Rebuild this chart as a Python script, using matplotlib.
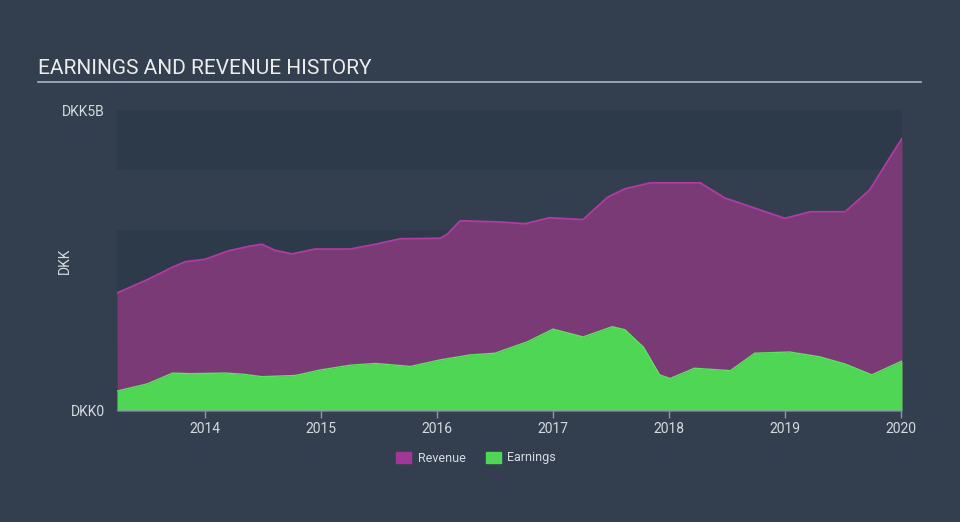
import matplotlib
matplotlib.use("Agg")
import matplotlib.pyplot as plt
from matplotlib.patches import Patch

plt.rcParams['font.family'] = ['Roboto', 'DejaVu Sans']

# values (decimal year, DKK billions)
rev_t = [2013.24, 2013.50, 2013.72, 2013.83, 2014.00, 2014.20, 2014.39, 2014.49,
         2014.60, 2014.75, 2014.95, 2015.25, 2015.47, 2015.68, 2016.03, 2016.09,
         2016.20, 2016.54, 2016.76, 2016.97, 2017.26, 2017.47, 2017.62, 2017.84,
         2018.27, 2018.48, 2018.74, 2019.00, 2019.22, 2019.52, 2019.73, 2020.01]
rev_v = [1.96, 2.18, 2.39, 2.48, 2.52, 2.66, 2.74, 2.77,
         2.67, 2.61, 2.69, 2.69, 2.77, 2.86, 2.87, 2.94,
         3.16, 3.14, 3.11, 3.21, 3.18, 3.55, 3.69, 3.79,
         3.79, 3.54, 3.37, 3.20, 3.31, 3.31, 3.67, 4.53]

earn_t = [2013.24, 2013.50, 2013.72, 2013.87, 2014.17, 2014.33, 2014.49, 2014.78,
          2014.99, 2015.25, 2015.47, 2015.77, 2016.03, 2016.28, 2016.50, 2016.78,
          2017.00, 2017.26, 2017.51, 2017.62, 2017.78, 2017.92, 2018.01, 2018.22,
          2018.53, 2018.74, 2019.04, 2019.30, 2019.52, 2019.75, 2020.01]
earn_v = [0.33, 0.45, 0.63, 0.62, 0.63, 0.61, 0.57, 0.59,
          0.68, 0.76, 0.79, 0.74, 0.85, 0.93, 0.96, 1.15,
          1.36, 1.23, 1.40, 1.35, 1.06, 0.60, 0.54, 0.71,
          0.67, 0.96, 0.98, 0.90, 0.78, 0.60, 0.83]

years = [2014, 2015, 2016, 2017, 2018, 2019, 2020]

bg = '#333f4f'
fig = plt.figure(figsize=(9.6, 5.22), dpi=100, facecolor=bg)
ax = fig.add_axes([117/960, 1 - 411/522, 785/960, 301/522])
ax.set_facecolor(bg)

# alternating horizontal bands
for lo in range(5):
    col = '#2d3a4a' if lo % 2 == 0 else bg
    ax.axhspan(lo, lo + 1, color=col, lw=0, zorder=0)

ax.fill_between(rev_t, rev_v, color='#7a3a76', lw=0, zorder=1)
ax.plot(rev_t, rev_v, color='#b03ba2', lw=1.3, zorder=2)
ax.fill_between(earn_t, earn_v, color='#50d655', lw=0, zorder=3)
ax.plot(earn_t, earn_v, color='#5ee25f', lw=1.0, zorder=4)

ax.set_xlim(2013.24, 2020.01)
ax.set_ylim(0, 5)
for s in ax.spines.values():
    s.set_visible(False)
ax.axhline(0, color='#8a98a8', lw=1.2, zorder=5)

ax.set_xticks(years)
ax.set_xticklabels([str(y) for y in years])
ax.tick_params(axis='x', colors='#8a98a8', length=5, width=1, labelcolor='#d5dae0', labelsize=10, pad=3)
ax.set_yticks([0, 5])
ax.set_yticklabels(['DKK0', 'DKK5B'])
ax.tick_params(axis='y', length=0, labelcolor='#d5dae0', labelsize=10, pad=9)
ax.set_ylabel('DKK', color='#d5dae0', fontsize=10)
ax.yaxis.set_label_coords((72 - 117) / 785, 0.5)

fig.text(38/960, 1 - 68/522, 'EARNINGS AND REVENUE HISTORY', color='#ececec', fontsize=15, va='center', ha='left')
fig.add_artist(plt.Line2D([38/960, 921/960], [1 - 82/522, 1 - 82/522], color='#aab4be', lw=1.2))

handles = [Patch(color='#a2379a', label='Revenue'), Patch(color='#4fd655', label='Earnings')]
leg = fig.legend(handles=handles, loc='center', bbox_to_anchor=(476/960, 1 - 458/522), ncol=2,
                 frameon=False, fontsize=9, handlelength=1.2, handleheight=1.0, columnspacing=1.6,
                 handletextpad=0.5)
for t in leg.get_texts():
    t.set_color('#d5dae0')

fig.savefig('out.png', dpi=100, facecolor=bg)
